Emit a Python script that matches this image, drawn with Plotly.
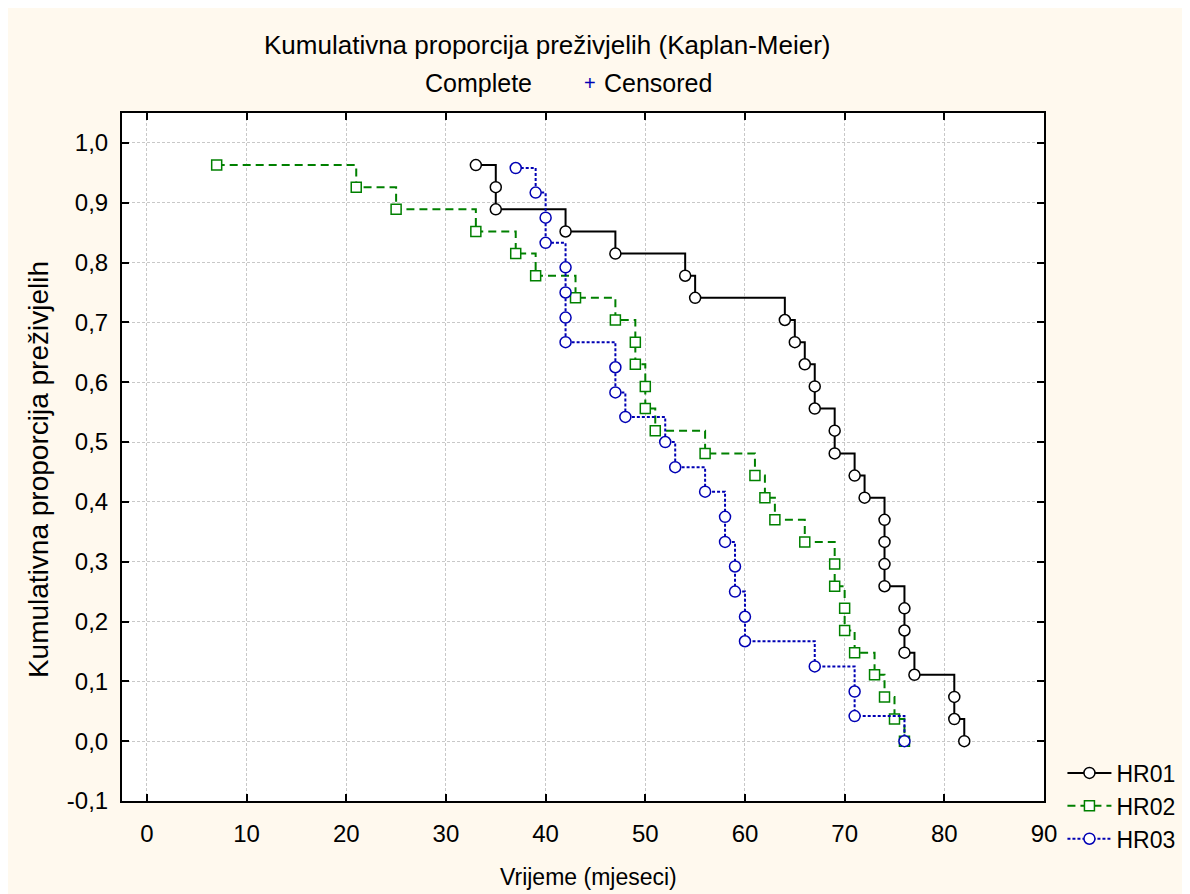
import plotly.graph_objects as go

# Kaplan-Meier estimates (time in months, cumulative proportion surviving)
hr01_time = [33, 35, 35, 42, 47, 54, 55, 64, 65, 66, 67, 67, 69, 69, 71, 72,
             74, 74, 74, 74, 76, 76, 76, 77, 81, 81, 82]
hr01_surv = [0.963, 0.926, 0.889, 0.852, 0.815, 0.778, 0.741, 0.704, 0.667,
             0.630, 0.593, 0.556, 0.519, 0.481, 0.444, 0.407, 0.370, 0.333,
             0.296, 0.259, 0.222, 0.185, 0.148, 0.111, 0.074, 0.037, 0.000]

hr02_time = [7, 21, 25, 33, 37, 39, 43, 47, 49, 49, 50, 50, 51, 56, 61, 62,
             63, 66, 69, 69, 70, 70, 71, 73, 74, 75, 76]
hr02_surv = [0.963, 0.926, 0.889, 0.852, 0.815, 0.778, 0.741, 0.704, 0.667,
             0.630, 0.593, 0.556, 0.519, 0.481, 0.444, 0.407, 0.370, 0.333,
             0.296, 0.259, 0.222, 0.185, 0.148, 0.111, 0.074, 0.037, 0.000]

hr03_time = [37, 39, 40, 40, 42, 42, 42, 42, 47, 47, 48, 52, 53, 56, 58, 58,
             59, 59, 60, 60, 67, 71, 71, 76]
hr03_surv = [0.958, 0.917, 0.875, 0.833, 0.792, 0.750, 0.708, 0.667, 0.625,
             0.583, 0.542, 0.500, 0.458, 0.417, 0.375, 0.333, 0.292, 0.250,
             0.208, 0.167, 0.125, 0.083, 0.042, 0.000]

x_ticks = [0, 10, 20, 30, 40, 50, 60, 70, 80, 90]
y_ticks = [-0.1, 0.0, 0.1, 0.2, 0.3, 0.4, 0.5, 0.6, 0.7, 0.8, 0.9, 1.0]
y_labels = ["-0,1", "0,0", "0,1", "0,2", "0,3", "0,4", "0,5", "0,6", "0,7",
            "0,8", "0,9", "1,0"]

FONT = "Liberation Sans, Arial, sans-serif"
CREAM = "#FFF9EE"
GREEN = "#008000"
BLUE = "#0000B4"

fig = go.Figure()
fig.add_trace(go.Scatter(
    x=hr01_time, y=hr01_surv, name="HR01", legendgroup="a",
    mode="lines+markers", line=dict(color="black", width=2, shape="hv"),
    marker=dict(symbol="circle", size=11, color="white",
                line=dict(color="black", width=1.5))
))
fig.add_trace(go.Scatter(
    x=hr02_time, y=hr02_surv, name="HR02", legendgroup="b",
    mode="lines+markers",
    line=dict(color=GREEN, width=2, shape="hv", dash="8px,5px"),
    marker=dict(symbol="square", size=10, color="white",
                line=dict(color=GREEN, width=1.5))
))
fig.add_trace(go.Scatter(
    x=hr03_time, y=hr03_surv, name="HR03", legendgroup="c",
    mode="lines+markers",
    line=dict(color=BLUE, width=2, shape="hv", dash="3px,2px"),
    marker=dict(symbol="circle", size=11, color="white",
                line=dict(color=BLUE, width=1.5))
))

axis_common = dict(
    showline=True, linecolor="black", linewidth=2, mirror="ticks",
    ticks="inside", ticklen=7, tickwidth=2, tickcolor="black",
    showgrid=True, gridcolor="#C8C8C8", gridwidth=1, griddash="3px,2px",
    zeroline=False, tickfont=dict(family=FONT, size=24, color="black"),
)

fig.update_xaxes(range=[-2.5, 90], tickvals=x_ticks, ticklabelstandoff=10,
                 **axis_common)
fig.update_yaxes(range=[-0.1, 1.05], tickvals=y_ticks, ticktext=y_labels,
                 ticklabelstandoff=7, **axis_common)

annots = [
    dict(text="Kumulativna proporcija preživjelih (Kaplan-Meier)",
         x=0.461, y=1.099, size=26),
    dict(text="Complete", x=0.387, y=1.043, size=25),
    dict(text="+", x=0.5076, y=1.043, size=20, color=BLUE),
    dict(text="Censored", x=0.581, y=1.043, size=25),
    dict(text="Vrijeme (mjeseci)", x=0.506, y=-0.1105, size=23),
]
for a in annots:
    fig.add_annotation(text=a["text"], x=a["x"], y=a["y"], xref="paper",
                       yref="paper", showarrow=False, xanchor="center",
                       yanchor="middle",
                       font=dict(family=FONT, size=a["size"],
                                 color=a.get("color", "black")))
fig.add_annotation(text="Kumulativna proporcija preživjelih", textangle=-90,
                   x=-0.0911, y=0.481, xref="paper", yref="paper",
                   showarrow=False, xanchor="center", yanchor="middle",
                   font=dict(family=FONT, size=28, color="black"))

fig.update_layout(
    width=1190, height=894,
    paper_bgcolor=CREAM, plot_bgcolor="white",
    margin=dict(l=114, r=154, t=105, b=101, autoexpand=False),
    showlegend=True,
    legend=dict(x=1.020, y=0.072, xanchor="left", yanchor="top",
                bgcolor="rgba(0,0,0,0)", itemwidth=44,
                traceorder="grouped", tracegroupgap=0,
                font=dict(family=FONT, size=23, color="black")),
    font=dict(family=FONT, color="black"),
)

fig.write_html("out.html")
